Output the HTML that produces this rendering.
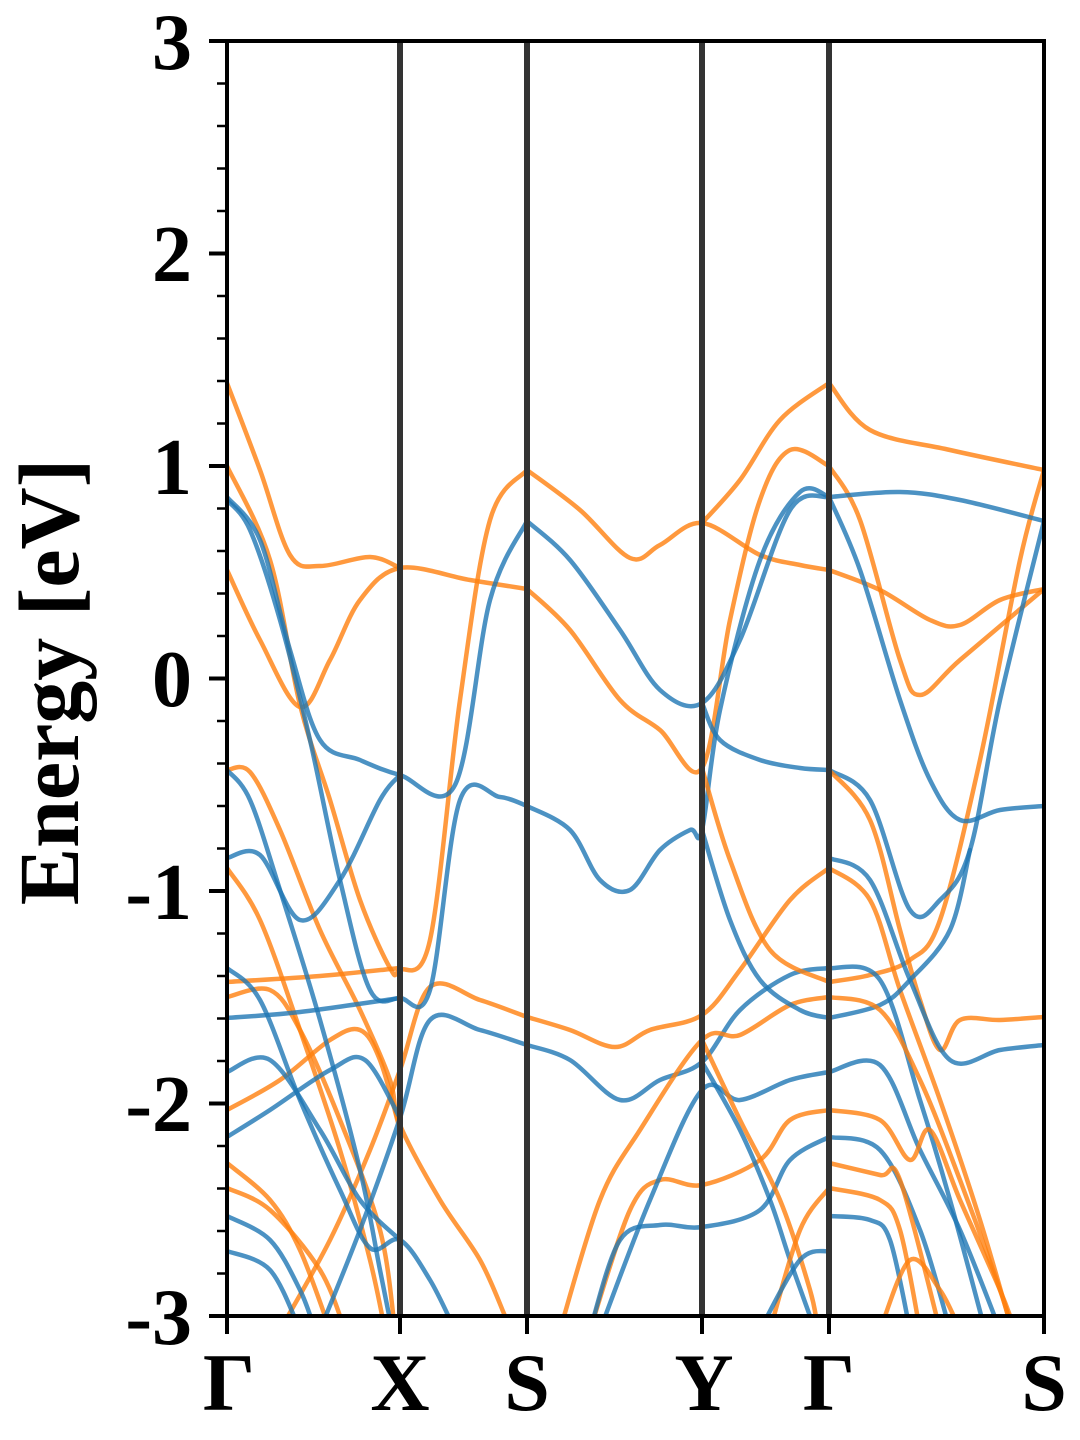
<!DOCTYPE html>
<html><head><meta charset="utf-8"><style>
html,body{margin:0;padding:0;background:#fff;}
svg{display:block;}
text{font-family:"Liberation Serif","Times New Roman",serif;font-weight:bold;fill:#000;}
</style></head><body>
<svg id="s" width="1080" height="1440" viewBox="0 0 1080 1440" xmlns="http://www.w3.org/2000/svg">
<defs><clipPath id="c"><rect x="227" y="41" width="817" height="1275"/></clipPath></defs>
<g id="bands" clip-path="url(#c)" fill="none" stroke-width="4.5" stroke-linecap="round" stroke-linejoin="round"></g>
<g stroke="#333" stroke-width="6">
<line x1="400" y1="41" x2="400" y2="1316"/><line x1="527" y1="41" x2="527" y2="1316"/>
<line x1="702" y1="41" x2="702" y2="1316"/><line x1="829" y1="41" x2="829" y2="1316"/>
</g>
<rect x="227" y="41" width="817" height="1275" fill="none" stroke="#000" stroke-width="4"/>
<g id="ticks" stroke="#000"></g>
<g font-size="80" text-anchor="end" font-family="Liberation Serif, serif" font-weight="bold">
<text x="192" y="69">3</text><text x="192" y="281">2</text><text x="192" y="494">1</text>
<text x="192" y="706">0</text><text x="192" y="919">-1</text><text x="192" y="1131">-2</text><text x="192" y="1344">-3</text>
</g>
<g font-size="82" text-anchor="middle" font-family="Liberation Serif, serif" font-weight="bold">
<text x="229" y="1410">Γ</text><text x="400" y="1410">X</text><text x="527" y="1410">S</text>
<text x="704" y="1410">Y</text><text x="829" y="1410">Γ</text><text x="1044" y="1410">S</text>
</g>
<text font-size="86" text-anchor="middle" font-family="Liberation Serif, serif" font-weight="bold" transform="translate(78,682) rotate(-90)">Energy [eV]</text>
</svg>
<script>
var O="rgba(255,127,14,0.8)",B="rgba(31,119,180,0.8)";
var bands=[
[O,[[227,383],[260,470],[290,555],[320,566],[370,557],[400,568]]],
[O,[[227,466],[270,560],[300,705],[330,800],[360,900],[390,968],[400,970],[430,940],[460,700],[490,520],[527,470]]],
[O,[[227,570],[260,640],[300,707],[330,660],[360,600],[400,568],[470,580],[527,589]]],
[O,[[227,770],[250,772],[280,830],[320,930],[360,1010],[390,1080],[400,1125],[440,1200],[480,1260],[505,1316]]],
[O,[[227,868],[260,920],[300,1030],[340,1150],[370,1260],[385,1330]]],
[O,[[227,982],[320,976],[400,968]]],
[O,[[227,997],[270,990],[300,1030],[340,1120],[380,1230],[395,1330]]],
[O,[[227,1110],[280,1080],[330,1040],[360,1030],[380,1060],[400,1130]]],
[O,[[227,1163],[270,1200],[300,1250],[330,1330]]],
[O,[[227,1188],[270,1210],[320,1270],[345,1330]]],
[O,[[280,1330],[330,1240],[370,1150],[400,1070],[430,987],[480,1000],[527,1017]]],
[B,[[227,497],[260,540],[290,650],[320,740],[360,760],[400,775],[455,785],[490,600],[527,521]]],
[B,[[227,500],[250,530],[280,620],[310,740],[340,880],[370,990],[400,998],[430,990],[460,800],[500,797],[527,806]]],
[B,[[227,770],[250,800],[280,890],[320,1020],[360,1170],[380,1270],[392,1330]]],
[B,[[227,858],[260,855],[300,920],[340,880],[380,800],[400,775]]],
[B,[[227,1018],[300,1012],[400,998]]],
[B,[[227,968],[260,1000],[300,1100],[340,1190],[370,1248],[400,1240],[430,1280],[455,1330]]],
[B,[[227,1072],[270,1060],[320,1130],[360,1200],[400,1240]]],
[B,[[227,1137],[270,1110],[330,1070],[365,1060],[400,1118]]],
[B,[[227,1216],[270,1240],[300,1290],[315,1330]]],
[B,[[227,1251],[270,1270],[300,1330]]],
[B,[[320,1330],[360,1230],[400,1118],[430,1020],[480,1030],[527,1045]]],
[O,[[527,470],[580,510],[630,558],[660,545],[702,523],[760,555],[800,565],[829,570]]],
[O,[[527,589],[570,630],[620,700],[660,730],[702,768],[730,620],[760,500],[790,450],[829,466]]],
[B,[[527,521],[570,560],[620,630],[660,690],[702,703],[740,640],[790,510],[829,497]]],
[B,[[527,806],[570,830],[600,880],[630,890],[660,850],[690,830],[702,830],[720,710],[760,560],[800,492],[829,497]]],
[O,[[527,1017],[570,1030],[615,1047],[650,1030],[702,1015],[740,970],[790,900],[829,868]]],
[B,[[527,1045],[570,1060],[620,1100],[660,1080],[702,1062],[740,1010],[790,975],[829,968]]],
[O,[[560,1330],[600,1200],[640,1130],[702,1040],[740,1035],[790,1005],[829,997]]],
[O,[[590,1330],[630,1210],[660,1180],[702,1185],[760,1160],[790,1120],[829,1110]]],
[B,[[590,1330],[620,1240],[660,1225],[702,1227],[760,1210],[790,1160],[829,1137]]],
[B,[[600,1330],[650,1200],[702,1090],[740,1100],[790,1080],[829,1072]]],
[O,[[702,523],[740,480],[780,420],[829,383]]],
[B,[[702,703],[720,740],[760,760],[800,768],[829,770]]],
[B,[[702,830],[730,920],[760,980],[800,1010],[829,1018]]],
[O,[[702,768],[730,860],[770,950],[829,982]]],
[O,[[702,1040],[740,1120],[780,1200],[810,1290],[818,1330]]],
[B,[[702,1062],[740,1130],[770,1200],[790,1260],[815,1330]]],
[O,[[770,1330],[800,1230],[829,1188]]],
[B,[[760,1330],[800,1260],[829,1251]]],
[O,[[829,383],[870,430],[950,450],[1044,470]]],
[O,[[829,466],[860,520],[900,660],[920,695],[960,660],[1044,589]]],
[O,[[829,570],[880,590],[930,620],[960,625],[1000,600],[1044,589]]],
[O,[[829,982],[870,975],[910,960],[940,920],[980,760],[1020,560],[1044,470]]],
[B,[[829,497],[900,492],[960,500],[1044,521]]],
[B,[[829,497],[860,570],[900,700],[930,780],[960,820],[1000,810],[1044,806]]],
[B,[[829,770],[870,800],[910,910],[940,900],[970,850],[1000,700],[1044,521]]],
[O,[[829,770],[870,820],[900,930],[920,1000],[940,1050],[960,1020],[1000,1020],[1044,1017]]],
[O,[[829,868],[870,900],[900,990],[940,1100],[980,1220],[1012,1330]]],
[B,[[829,858],[870,880],[910,980],[950,1060],[1000,1050],[1044,1045]]],
[B,[[829,968],[880,980],[920,1100],[950,1200],[985,1330]]],
[B,[[829,1018],[880,1005],[910,980],[950,930],[970,850]]],
[O,[[829,997],[880,1010],[920,1080],[960,1180],[1000,1290],[1012,1330]]],
[B,[[829,1072],[880,1065],[920,1150],[960,1230],[1000,1330]]],
[O,[[829,1110],[880,1120],[910,1160],[930,1130],[960,1200],[1000,1290],[1015,1330]]],
[B,[[829,1137],[880,1150],[920,1230],[950,1330]]],
[O,[[829,1163],[880,1175],[900,1180],[940,1330]]],
[O,[[829,1188],[880,1200],[900,1230],[920,1330]]],
[B,[[829,1216],[870,1220],[890,1240],[910,1330]]],
[O,[[880,1330],[910,1260],[940,1290],[960,1330]]]
];
function cr(p){var d="M"+p[0][0]+","+p[0][1];for(var i=0;i<p.length-1;i++){var p0=p[i-1]||p[i],p1=p[i],p2=p[i+1],p3=p[i+2]||p2;
d+=" C"+(p1[0]+(p2[0]-p0[0])/6)+","+(p1[1]+(p2[1]-p0[1])/6)+" "+(p2[0]-(p3[0]-p1[0])/6)+","+(p2[1]-(p3[1]-p1[1])/6)+" "+p2[0]+","+p2[1];}return d;}
var g=document.getElementById("bands"),ns="http://www.w3.org/2000/svg";
bands.forEach(function(b){var e=document.createElementNS(ns,"path");e.setAttribute("d",cr(b[1]));e.setAttribute("stroke",b[0]);g.appendChild(e);});
var t=document.getElementById("ticks"),h="";
for(var i=0;i<=30;i++){var y=41+i*42.5,maj=i%5==0;h+='<line x1="'+(maj?209:217)+'" y1="'+y+'" x2="227" y2="'+y+'" stroke-width="'+(maj?4:2.5)+'"/>';}
[227,400,527,702,829,1044].forEach(function(x){h+='<line x1="'+x+'" y1="1316" x2="'+x+'" y2="1334" stroke-width="4"/>';});
t.innerHTML=h;
</script>
</body></html>
